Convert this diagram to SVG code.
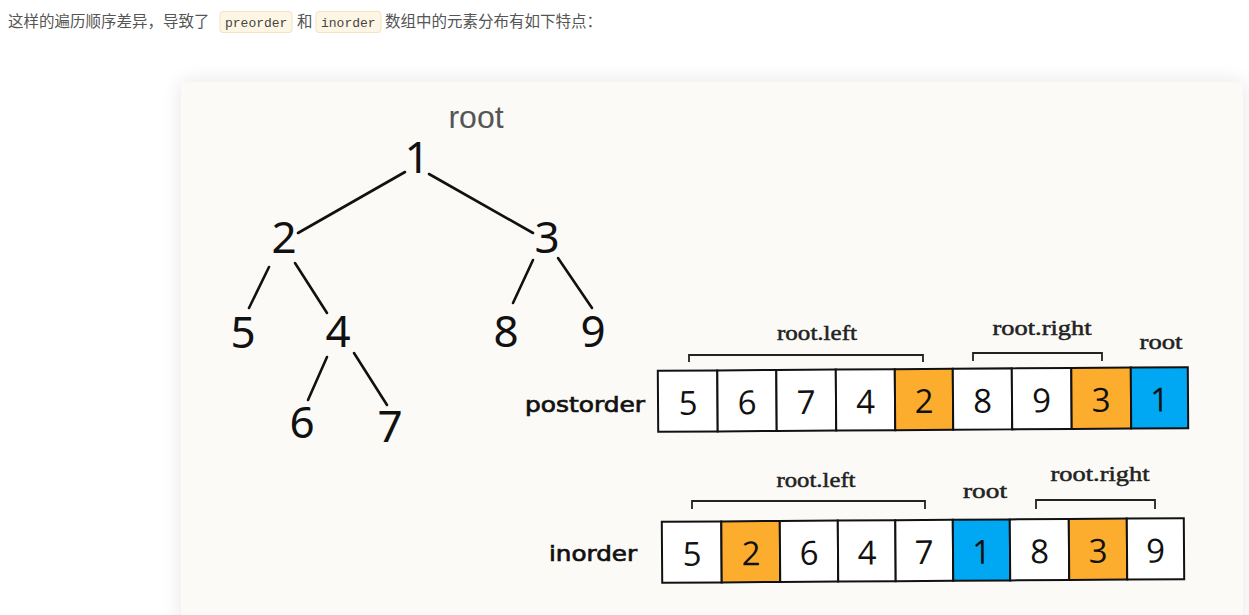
<svg xmlns="http://www.w3.org/2000/svg" width="1249" height="615" viewBox="0 0 1249 615">
<defs>
<filter id="sh" x="-10%" y="-10%" width="120%" height="130%">
<feGaussianBlur stdDeviation="10"/>
</filter>
<style>
.intro{font-family:"Noto Sans CJK SC","Noto Sans",sans-serif;font-size:15.5px;fill:#555}
.code{font-family:"Liberation Mono",monospace;font-size:13px;fill:#444}
.codebg{fill:#fdf6e4;stroke:#f3e3c0;stroke-width:1}
.edge{stroke:#111;stroke-width:2.6;stroke-linecap:round;fill:none}
.tn{font-family:"Noto Sans","Open Sans",sans-serif;font-size:44px;fill:#111;text-anchor:middle}
.lbl{font-family:"Liberation Serif",serif;font-size:22px;fill:#222;stroke:#222;stroke-width:0.5;text-anchor:middle}
.arr{font-family:"DejaVu Sans",sans-serif;font-size:21px;fill:#111;stroke:#111;stroke-width:0.7}
.cell{stroke:#111;stroke-width:2;fill:#fff}
.org{fill:#fcad2d}
.blu{fill:#00a8f3}
.cn{font-family:"Open Sans","Noto Sans",sans-serif;font-size:33px;fill:#111;text-anchor:middle}
.br{stroke:#222;stroke-width:1.8;fill:none}
</style>
</defs>
<rect width="1249" height="615" fill="#fff"/>
<g id="intro">
<text class="intro" x="8" y="27">这样的遍历顺序差异，导致了</text>
<rect class="codebg" x="220" y="11.5" width="72" height="21" rx="3"/>
<text class="code" x="225" y="27">preorder</text>
<text class="intro" x="297" y="27">和</text>
<rect class="codebg" x="316" y="11.5" width="65" height="21" rx="3"/>
<text class="code" x="321" y="27">inorder</text>
<text class="intro" x="385" y="27">数组中的元素分布有如下特点：</text>
</g>
<rect x="181" y="82" width="1062" height="560" fill="#000" opacity="0.10" filter="url(#sh)"/>
<rect id="panel" x="181" y="82" width="1062" height="560" fill="#fbfaf7"/>
<g id="connectors">
<line class="edge" x1="405" y1="172" x2="298" y2="233"/>
<line class="edge" x1="429" y1="174" x2="533" y2="233"/>
<line class="edge" x1="269" y1="267" x2="249" y2="308"/>
<line class="edge" x1="295" y1="263" x2="327" y2="313"/>
<line class="edge" x1="533" y1="260" x2="513" y2="303"/>
<line class="edge" x1="558" y1="258" x2="592" y2="308"/>
<line class="edge" x1="327" y1="357" x2="308" y2="400"/>
<line class="edge" x1="354" y1="353" x2="387" y2="405"/>
</g>
<g id="root-label"><text x="476" y="128" font-family="Liberation Sans,sans-serif" font-size="32" fill="#555" text-anchor="middle">root</text></g>
<g id="n1"><text class="tn" x="417" y="173">1</text></g>
<g id="n2"><text class="tn" x="284" y="253">2</text></g>
<g id="n3"><text class="tn" x="547" y="253">3</text></g>
<g id="n5"><text class="tn" x="243" y="348">5</text></g>
<g id="n4"><text class="tn" x="338" y="347">4</text></g>
<g id="n8"><text class="tn" x="506" y="347">8</text></g>
<g id="n9"><text class="tn" x="593" y="347">9</text></g>
<g id="n6"><text class="tn" x="302" y="438">6</text></g>
<g id="n7"><text class="tn" x="390" y="442">7</text></g>

<g id="postorder">
<text class="arr" x="525" y="412" textLength="120" lengthAdjust="spacingAndGlyphs">postorder</text>
<path class="br" d="M689,362 V355 H923 V362"/>
<text class="lbl" x="817" y="340" textLength="80" lengthAdjust="spacingAndGlyphs">root.left</text>
<path class="br" d="M973,361 V353 H1102 V361"/>
<text class="lbl" x="1042" y="335" textLength="99" lengthAdjust="spacingAndGlyphs">root.right</text>
<text class="lbl" x="1161" y="349" textLength="43" lengthAdjust="spacingAndGlyphs">root</text>
<g transform="rotate(-0.4 923 399)">
<rect class="cell" x="658" y="369" width="59.5" height="61"/>
<rect class="cell" x="717.5" y="369" width="59" height="61"/>
<rect class="cell" x="776.5" y="369" width="59.5" height="61"/>
<rect class="cell" x="836" y="369" width="59" height="61"/>
<rect class="cell org" x="895" y="369" width="58" height="61"/>
<rect class="cell" x="953" y="369" width="59" height="61"/>
<rect class="cell" x="1012" y="369" width="59.5" height="61"/>
<rect class="cell org" x="1071.5" y="369" width="59.5" height="61"/>
<rect class="cell blu" x="1131" y="369" width="57" height="61"/>
<text class="cn" x="688" y="413">5</text>
<text class="cn" x="747" y="413">6</text>
<text class="cn" x="806" y="413">7</text>
<text class="cn" x="865.5" y="413">4</text>
<text class="cn" x="924" y="413">2</text>
<text class="cn" x="982.5" y="413">8</text>
<text class="cn" x="1041.5" y="413">9</text>
<text class="cn" x="1101" y="413">3</text>
<text class="cn" x="1159.5" y="413">1</text>
</g>
</g>

<g id="inorder">
<text class="arr" x="549" y="561" textLength="88" lengthAdjust="spacingAndGlyphs">inorder</text>
<path class="br" d="M692,509 V501 H925 V509"/>
<text class="lbl" x="816" y="487" textLength="79" lengthAdjust="spacingAndGlyphs">root.left</text>
<text class="lbl" x="985" y="498" textLength="44" lengthAdjust="spacingAndGlyphs">root</text>
<path class="br" d="M1036,509 V500 H1155 V509"/>
<text class="lbl" x="1100" y="481" textLength="99" lengthAdjust="spacingAndGlyphs">root.right</text>
<g transform="rotate(-0.4 923 550)">
<rect class="cell" x="662" y="520" width="59.5" height="61"/>
<rect class="cell org" x="721.5" y="520" width="58.5" height="61"/>
<rect class="cell" x="780" y="520" width="58" height="61"/>
<rect class="cell" x="838" y="520" width="57.5" height="61"/>
<rect class="cell" x="895.5" y="520" width="57.5" height="61"/>
<rect class="cell blu" x="953" y="520" width="57" height="61"/>
<rect class="cell" x="1010" y="520" width="59" height="61"/>
<rect class="cell org" x="1069" y="520" width="58" height="61"/>
<rect class="cell" x="1127" y="520" width="57" height="61"/>
<text class="cn" x="692" y="564">5</text>
<text class="cn" x="751" y="564">2</text>
<text class="cn" x="809" y="564">6</text>
<text class="cn" x="867" y="564">4</text>
<text class="cn" x="924" y="564">7</text>
<text class="cn" x="981.5" y="564">1</text>
<text class="cn" x="1039.5" y="564">8</text>
<text class="cn" x="1098" y="564">3</text>
<text class="cn" x="1155.5" y="564">9</text>
</g>
</g>
</svg>
